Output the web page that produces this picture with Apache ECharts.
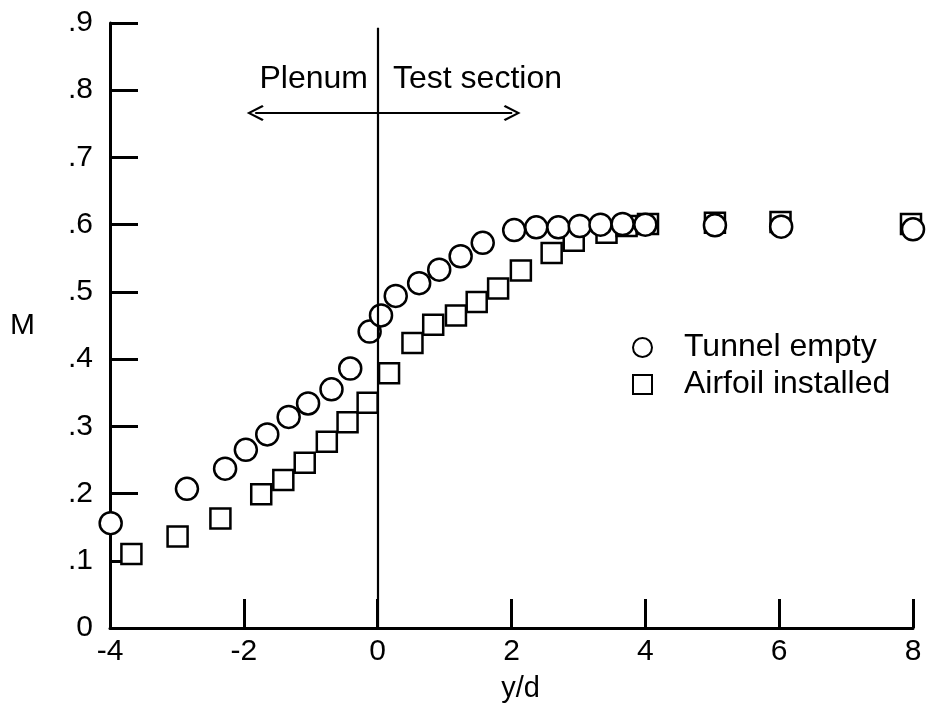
<!DOCTYPE html>
<html>
<head>
<meta charset="utf-8">
<title>M vs y/d</title>
<script src="https://cdn.jsdelivr.net/npm/echarts@6/dist/echarts.min.js"></script>
<style>
    html, body {margin: 0; padding: 0; background: #fff;}
    #chart {width: 932px; height: 708px;}
</style>
</head>
<body>
<div id="chart"></div>
<script>
// data
var tunnelX = [-3.99, -2.85, -2.28, -1.97, -1.65, -1.33, -1.04, -0.69, -0.41, -0.12, 0.05, 0.27, 0.62,
    0.92, 1.24, 1.57, 2.04, 2.37, 2.70, 3.02, 3.33, 3.66, 4.00, 5.04, 6.03, 8.00];
var tunnelM = [0.156, 0.207, 0.237, 0.265, 0.288, 0.314, 0.334, 0.355, 0.386, 0.441, 0.465, 0.494, 0.513,
    0.533, 0.553, 0.573, 0.592, 0.596, 0.596, 0.598, 0.600, 0.601, 0.600, 0.599, 0.597, 0.593];
var airfoilX = [-3.68, -2.99, -2.35, -1.74, -1.41, -1.09, -0.76, -0.45, -0.15, 0.17, 0.52, 0.83,
    1.17, 1.48, 1.80, 2.14, 2.60, 2.93, 3.42, 3.72, 4.04, 5.04, 6.02, 7.97];
var airfoilM = [0.110, 0.136, 0.163, 0.199, 0.220, 0.246, 0.277, 0.306, 0.335, 0.379, 0.424, 0.451,
    0.465, 0.485, 0.505, 0.532, 0.558, 0.576, 0.588, 0.598, 0.601, 0.603, 0.604, 0.601];

// annotation: divider at y/d = 0 and the double arrow
var dividerTop = 0.893;
var arrowM = 0.766;
var arrowFrom = -1.83;
var arrowTo = 2.01;

function pairs(xs, ys) {
    var out = [];
    for (var i = 0; i < xs.length; i++) {
        out.push([xs[i], ys[i]]);
    }
    return out;
}

var font = 'Liberation Sans, Arial, Helvetica, sans-serif';
// open chevron head, tip pointing up
var chevron = 'path://M50,0 L100,84 L89,92 L50,24 L11,92 L0,84 Z';

var chart = echarts.init(document.getElementById('chart'));

option = {
    backgroundColor: '#fff',
    animation: false,
    textStyle: {fontFamily: font, color: '#000'},
    grid: {left: 110, right: 19, top: 23, bottom: 78},
    legend: {
        orient: 'vertical',
        left: 627,
        top: 324,
        itemGap: 0,
        itemWidth: 19,
        itemHeight: 19,
        data: ['Tunnel empty', 'Airfoil installed'],
        textStyle: {fontSize: 32, fontFamily: font, color: '#000', lineHeight: 37, padding: [0, 0, 0, 27]}
    },
    xAxis: {
        type: 'value',
        min: -4,
        max: 8,
        interval: 2,
        name: 'y/d',
        nameLocation: 'middle',
        nameGap: 46,
        nameTextStyle: {fontSize: 29, fontFamily: font, color: '#000', padding: [0, 0, 0, 18]},
        axisLine: {onZero: false, lineStyle: {color: '#000', width: 3}},
        axisTick: {inside: true, length: 29, lineStyle: {color: '#000', width: 3}},
        axisLabel: {fontSize: 30, fontFamily: font, color: '#000', margin: 9},
        splitLine: {show: false}
    },
    yAxis: {
        type: 'value',
        min: 0,
        max: 0.9,
        interval: 0.1,
        name: 'M',
        nameLocation: 'middle',
        nameRotate: 0,
        nameGap: 75,
        nameTextStyle: {fontSize: 30, fontFamily: font, color: '#000'},
        axisLine: {show: true, onZero: false, lineStyle: {color: '#000', width: 3}},
        axisTick: {inside: true, length: 28, lineStyle: {color: '#000', width: 3}},
        axisLabel: {
            fontSize: 30, fontFamily: font, color: '#000', margin: 17,
            formatter: function (v) {
                if (v === 0) return '0';
                return v.toFixed(1).replace(/^0/, '');
            }
        },
        splitLine: {show: false}
    },
    graphic: [
        {type: 'text', right: 932 - 368, top: 63,
            style: {text: 'Plenum', font: '32px ' + font, fill: '#000'}},
        {type: 'text', left: 393, top: 63,
            style: {text: 'Test section', font: '32px ' + font, fill: '#000'}}
    ],
    series: [
        {
            type: 'line',
            data: [],
            z: 1,
            silent: true,
            markLine: {
                silent: true,
                animation: false,
                label: {show: false},
                data: [
                    [{coord: [0, 0], symbol: 'none'}, {coord: [0, dividerTop], symbol: 'none'}],
                    [{coord: [arrowFrom, arrowM], symbol: chevron, symbolSize: [16, 17]},
                     {coord: [arrowTo, arrowM], symbol: chevron, symbolSize: [16, 17]}]
                ],
                lineStyle: {color: '#000', width: 2.2, type: 'solid'},
                itemStyle: {color: '#000'}
            }
        },
        {
            name: 'Airfoil installed',
            type: 'scatter',
            z: 3,
            symbol: 'rect',
            symbolSize: 20,
            data: pairs(airfoilX, airfoilM),
            itemStyle: {color: '#fff', borderColor: '#000', borderWidth: 2.5, opacity: 1}
        },
        {
            name: 'Tunnel empty',
            type: 'scatter',
            z: 4,
            symbol: 'circle',
            symbolSize: 22,
            data: pairs(tunnelX, tunnelM),
            itemStyle: {color: '#fff', borderColor: '#000', borderWidth: 2.5, opacity: 1}
        }
    ]
};

chart.setOption(option);
</script>
</body>
</html>
